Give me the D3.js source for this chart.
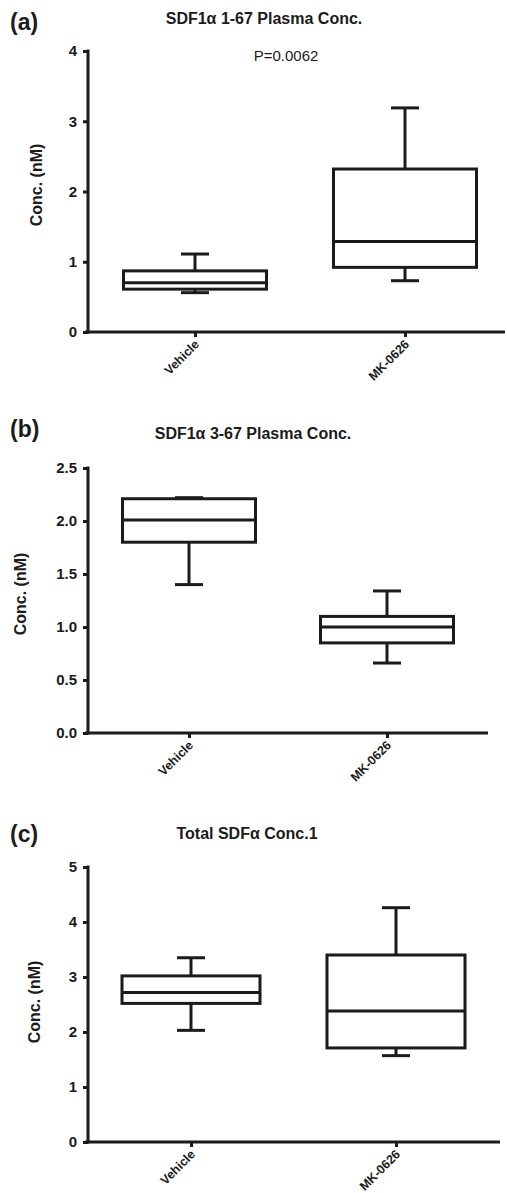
<!DOCTYPE html>
<html>
<head>
<meta charset="utf-8">
<script src="https://cdn.jsdelivr.net/npm/d3@7"></script>
<style>
  body { margin: 0; background: #fff; }
  svg { display: block; font-family: "Liberation Sans", Arial, sans-serif; }
</style>
</head>
<body>
<div id="chart"></div>
<script>
const categories = ["Vehicle", "MK-0626"];

// box stats per group: [min, q1, median, q3, max]
const sdf1_67 = [[0.56, 0.61, 0.70, 0.87, 1.11], [0.73, 0.92, 1.29, 2.32, 3.19]];
const sdf3_67 = [[1.40, 1.80, 2.01, 2.21, 2.22], [0.66, 0.85, 1.00, 1.10, 1.34]];
const totalSdf = [[2.03, 2.52, 2.72, 3.02, 3.35], [1.57, 1.71, 2.38, 3.40, 4.26]];

const ticksA = [0, 1, 2, 3, 4];
const ticksB = [0, 0.5, 1.0, 1.5, 2.0, 2.5];
const ticksC = [0, 1, 2, 3, 4, 5];

const panelTags = ["(a)", "(b)", "(c)"];
const panelTitles = ["SDF1\u03b1 1-67 Plasma Conc.", "SDF1\u03b1 3-67 Plasma Conc.", "Total SDF\u03b1 Conc.1"];
const yTitle = "Conc. (nM)";
const pValueText = "P=0.0062";

const width = 507, height = 1193;
const ink = "#1b1b1b";

// layout of each panel on the page
const panels = [
  { stats: sdf1_67, ticks: ticksA, fmt: d3.format("d"), top: 51, bottom: 332, axisX: 88, right: 505,
    centers: [195, 405], boxW: 143, tagY: 30, titleX: 264, titleY: 24, yLabX: 42, yLabY: 185 },
  { stats: sdf3_67, ticks: ticksB, fmt: d3.format(".1f"), top: 468, bottom: 733, axisX: 88, right: 488,
    centers: [189, 387], boxW: 133, tagY: 437, titleX: 253, titleY: 439, yLabX: 26, yLabY: 594 },
  { stats: totalSdf, ticks: ticksC, fmt: d3.format("d"), top: 867, bottom: 1142, axisX: 88, right: 500,
    centers: [191, 396], boxW: 138, tagY: 842, titleX: 247, titleY: 839, yLabX: 40, yLabY: 1002 }
];

const svg = d3.select("#chart").append("svg")
    .attr("width", width)
    .attr("height", height);

panels.forEach((p, i) => {
    const g = svg.append("g");

    const y = d3.scaleLinear()
        .domain([0, d3.max(p.ticks)])
        .range([p.bottom, p.top]);

    const x = d3.scalePoint()
        .domain(categories)
        .range(p.centers);

    // panel tag and title
    g.append("text")
        .attr("x", 10)
        .attr("y", p.tagY)
        .attr("font-size", 23)
        .attr("font-weight", "bold")
        .attr("fill", ink)
        .text(panelTags[i]);

    g.append("text")
        .attr("x", p.titleX)
        .attr("y", p.titleY)
        .attr("text-anchor", "middle")
        .attr("font-size", 16)
        .attr("font-weight", "bold")
        .attr("fill", ink)
        .text(panelTitles[i]);

    // y axis
    const yAxis = g.append("g")
        .attr("transform", `translate(${p.axisX},0)`)
        .call(d3.axisLeft(y).tickValues(p.ticks).tickFormat(p.fmt).tickSize(5).tickSizeOuter(0).tickPadding(6));
    yAxis.select(".domain").attr("stroke", ink).attr("stroke-width", 3)
        .attr("d", `M0,${p.top - 1.5}V${p.bottom + 1.5}`);
    yAxis.selectAll(".tick line").attr("stroke", ink).attr("stroke-width", 3);
    yAxis.selectAll(".tick text")
        .attr("fill", ink)
        .attr("font-size", 15)
        .attr("font-weight", "bold")
        .attr("font-family", "Liberation Sans, Arial, sans-serif");

    // x axis
    const xAxis = g.append("g")
        .attr("transform", `translate(0,${p.bottom})`)
        .call(d3.axisBottom(x).tickSize(5).tickSizeOuter(0).tickFormat(""));
    xAxis.select(".domain").attr("stroke", ink).attr("stroke-width", 3)
        .attr("d", `M${p.axisX - 3},0H${p.right}`);
    xAxis.selectAll(".tick line").attr("stroke", ink).attr("stroke-width", 3);

    g.append("g").selectAll("text")
        .data(categories)
        .join("text")
        .attr("transform", d => `translate(${x(d) + 5},${p.bottom + 13}) rotate(-45)`)
        .attr("text-anchor", "end")
        .attr("font-size", 12.5)
        .attr("font-weight", "bold")
        .attr("fill", ink)
        .text(d => d);

    // y title
    g.append("text")
        .attr("transform", `translate(${p.yLabX},${p.yLabY}) rotate(-90)`)
        .attr("text-anchor", "middle")
        .attr("font-size", 16)
        .attr("font-weight", "bold")
        .attr("fill", ink)
        .text(yTitle);

    // boxes
    const capW = 28;
    const boxes = g.append("g")
        .attr("fill", "none")
        .attr("stroke", ink)
        .attr("stroke-width", 3)
        .selectAll("g")
        .data(p.stats.map((s, j) => ({ cat: categories[j], s })))
        .join("g");

    boxes.append("line")
        .attr("x1", d => x(d.cat)).attr("x2", d => x(d.cat))
        .attr("y1", d => y(d.s[0])).attr("y2", d => y(d.s[4]));
    boxes.append("line")
        .attr("x1", d => x(d.cat) - capW / 2).attr("x2", d => x(d.cat) + capW / 2)
        .attr("y1", d => y(d.s[0])).attr("y2", d => y(d.s[0]));
    boxes.append("line")
        .attr("x1", d => x(d.cat) - capW / 2).attr("x2", d => x(d.cat) + capW / 2)
        .attr("y1", d => y(d.s[4])).attr("y2", d => y(d.s[4]));
    boxes.append("rect")
        .attr("x", d => x(d.cat) - p.boxW / 2)
        .attr("width", p.boxW)
        .attr("y", d => y(d.s[3]))
        .attr("height", d => y(d.s[1]) - y(d.s[3]))
        .attr("fill", "#fff");
    boxes.append("line")
        .attr("x1", d => x(d.cat) - p.boxW / 2).attr("x2", d => x(d.cat) + p.boxW / 2)
        .attr("y1", d => y(d.s[2])).attr("y2", d => y(d.s[2]));

    if (i === 0) {
        g.append("text")
            .attr("x", 286)
            .attr("y", 61)
            .attr("text-anchor", "middle")
            .attr("font-size", 15)
            .attr("fill", ink)
            .text(pValueText);
    }
});
</script>
</body>
</html>
